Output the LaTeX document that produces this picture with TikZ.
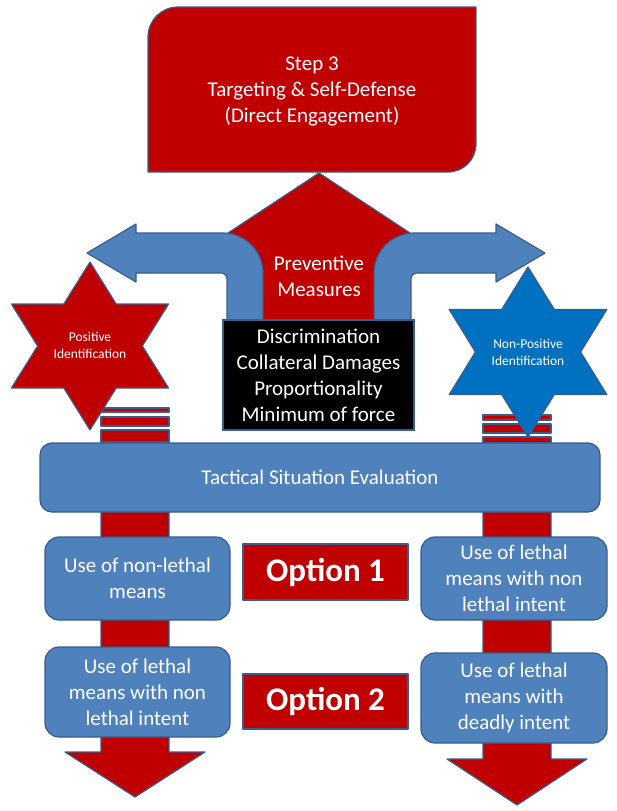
\documentclass[tikz,border=0pt]{standalone}
\usepackage{fontspec}
\setmainfont{Carlito}
\definecolor{deepred}{HTML}{C00000}
\definecolor{steelblue}{HTML}{4F81BD}
\definecolor{edgeblue}{HTML}{385D8A}
\definecolor{starblue}{HTML}{0070C0}
\tikzset{
  redshape/.style={fill=deepred, draw=edgeblue, line width=1.2pt, line join=round},
  blueshape/.style={fill=steelblue, draw=edgeblue, line width=1.2pt, line join=round},
  bluebox/.style={blueshape, rounded corners=14pt, text=white, align=center, inner sep=0pt,
    font=\fontsize{21}{26}\selectfont},
  optionbox/.style={redshape, text=white, inner sep=0pt, font=\bfseries\fontsize{33}{36}\selectfont},
  whitetext/.style={text=white, align=center, font=\fontsize{21}{26}\selectfont},
  startext/.style={text=white, align=center, font=\fontsize{13.5}{17}\selectfont},
}
\begin{document}
\begin{tikzpicture}[x=1pt, y=-1pt]
    \useasboundingbox (0,0) rectangle (617,811);
    % red downward arrows behind the boxes
    \draw[redshape] (101,443) -- (101,752) -- (65,752) -- (135,797) -- (205,752) -- (169,752) -- (169,443) -- cycle;
    \draw[redshape] (483,443) -- (483,759) -- (447,759) -- (517,805) -- (587,759) -- (551,759) -- (551,443) -- cycle;
    \draw[redshape] (101,408) rectangle (169,412);
    \draw[redshape] (101,417) rectangle (169,426);
    \draw[redshape] (101,430) rectangle (169,442);
    \draw[redshape] (483,415) rectangle (551,420);
    \draw[redshape] (483,424) rectangle (551,433);
    \draw[redshape] (483,437) rectangle (551,443);
    % stars
    \begin{scope}[shift={(90,346)}, xscale=1.08]
        \draw[redshape] (90:84) -- (120:48.5) -- (150:84) -- (180:48.5) -- (210:84) -- (240:48.5) -- (270:84) -- (300:48.5) -- (330:84) -- (0:48.5) -- (30:84) -- (60:48.5) -- cycle;
    \end{scope}
    \begin{scope}[shift={(528,352)}, xscale=1.07]
        \draw[fill=starblue, draw=edgeblue, line width=1.2pt, line join=round] (90:85) -- (120:49.1) -- (150:85) -- (180:49.1) -- (210:85) -- (240:49.1) -- (270:85) -- (300:49.1) -- (330:85) -- (0:49.1) -- (30:85) -- (60:49.1) -- cycle;
    \end{scope}
    \draw (90,345) node[startext] (posid) {Positive\\Identification};
    \draw (528,352) node[startext] (nonposid) {Non-Positive\\Identification};
    % boxes
    \draw (320,477.5) node[bluebox, rounded corners=12pt, minimum width=560pt, minimum height=69pt] (tactical) {Tactical Situation Evaluation};
    \draw (137.5,578.5) node[bluebox, minimum width=185pt, minimum height=83pt] (nonlethal) {Use of non-lethal\\means};
    \draw (137.5,692) node[bluebox, minimum width=185pt, minimum height=90pt] (lethalleft) {Use of lethal\\means with non\\lethal intent};
    \draw (514,578.5) node[bluebox, minimum width=186pt, minimum height=83pt] (lethalright) {Use of lethal\\means with non\\lethal intent};
    \draw (514,698) node[bluebox, minimum width=186pt, minimum height=90pt] (deadly) {Use of lethal\\means with\\deadly intent};
    \draw (325.5,572) node[optionbox, minimum width=165pt, minimum height=56pt] (opt1) {Option 1};
    \draw (325.5,701.5) node[optionbox, minimum width=165pt, minimum height=55pt] (opt2) {Option 2};
    % preventive measures
    \draw[redshape] (319,173) -- (410,233) -- (410,320) -- (228,320) -- (228,233) -- cycle;
    \draw[blueshape] (227,320) -- (227,279) .. controls (227,275.7) and (224.3,273) .. (221,273) -- (136,273) -- (136,282) -- (87,253) -- (136,224) -- (136,233) -- (223,233) .. controls (245.1,233) and (263,250.9) .. (263,273) -- (263,320) -- cycle;
    \draw[blueshape] (411,320) -- (411,279) .. controls (411,275.7) and (413.7,273) .. (417,273) -- (496,273) -- (496,282) -- (545,253) -- (496,224) -- (496,233) -- (414,233) .. controls (391.9,233) and (374,250.9) .. (374,273) -- (374,320) -- cycle;
    \draw (319,276) node[whitetext] (prevent) {Preventive\\Measures};
    \draw (318.5,375) node[whitetext, fill=black, draw=edgeblue, line width=1.2pt, minimum width=191pt, minimum height=110pt, inner sep=0pt] (criteria) {Discrimination\\Collateral Damages\\Proportionality\\Minimum of force};
    % step 3
    \draw[redshape] (148,172) -- (148,37) .. controls (148,20.4) and (161.4,7) .. (178,7) -- (476,7) -- (476,144) .. controls (476,159.5) and (463.5,172) .. (448,172) -- cycle;
    \draw (312,91) node[whitetext] (step) {Step 3\\Targeting \& Self-Defense\\(Direct Engagement)};
\end{tikzpicture}
\end{document}
